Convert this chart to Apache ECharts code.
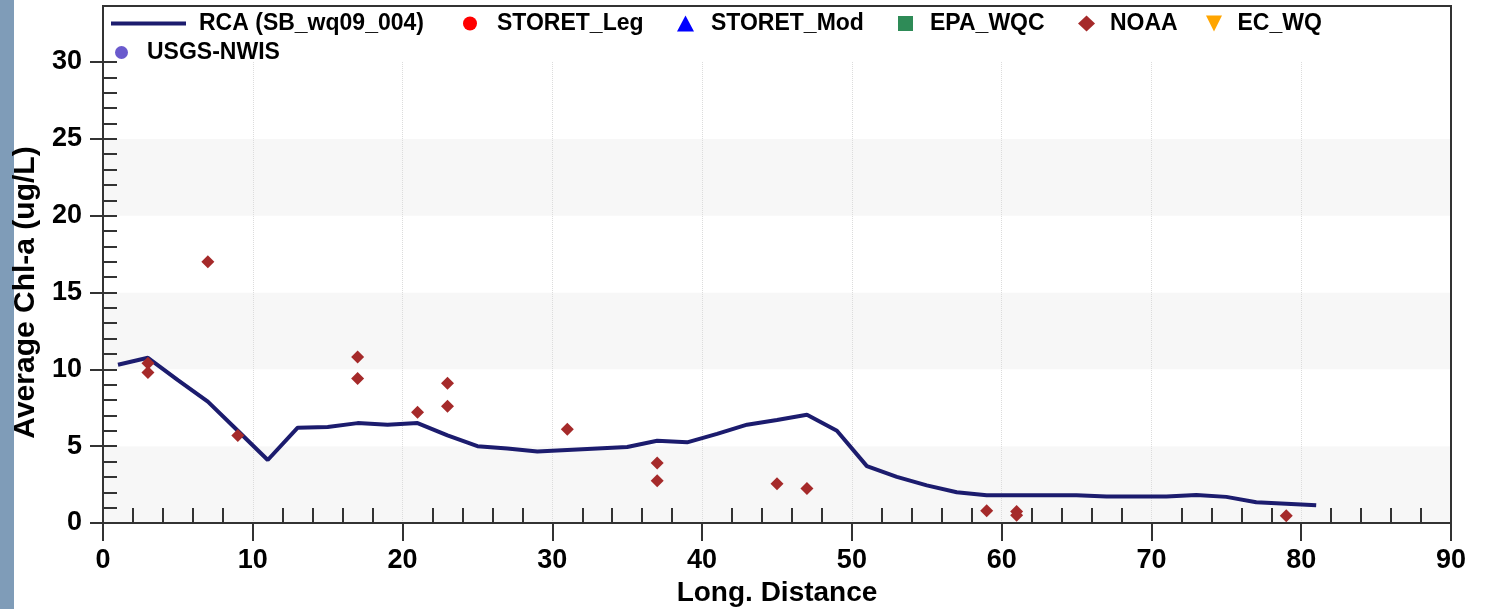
<!DOCTYPE html>
<html>
<head>
<meta charset="utf-8">
<title>Average Chl-a vs Long. Distance</title>
<script src="https://cdn.jsdelivr.net/npm/echarts@6/dist/echarts.min.js"></script>
<style>
  html, body { margin: 0; padding: 0; background: #fff; }
  #chart { width: 1485px; height: 609px; }
</style>
</head>
<body>
<div id="chart"></div>
<script>
// ===== Data =====
const rcaDist = [1, 3, 5, 7, 9, 11, 13, 15, 17, 19, 21, 23, 25, 27, 29, 31, 33, 35, 37, 39,
                 41, 43, 45, 47, 49, 51, 53, 55, 57, 59, 61, 63, 65, 67, 69, 71, 73, 75, 77, 79, 81];
const rcaChl  = [10.3, 10.75, 9.3, 7.9, 6.0, 4.1, 6.2, 6.25, 6.5, 6.4, 6.5, 5.7, 5.0, 4.85, 4.65, 4.75, 4.85, 4.95, 5.35, 5.25,
                 5.8, 6.4, 6.7, 7.05, 6.0, 3.7, 3.0, 2.45, 2.0, 1.8, 1.8, 1.8, 1.8, 1.72, 1.72, 1.72, 1.82, 1.7, 1.35, 1.25, 1.15];

const noaaDist = [3, 3, 7, 9, 17, 17, 21, 23, 23, 31, 37, 37, 45, 47, 59, 61, 61, 79];
const noaaChl  = [10.4, 9.8, 17.0, 5.7, 10.8, 9.4, 7.2, 9.1, 7.6, 6.1, 3.9, 2.75, 2.55, 2.25, 0.8, 0.75, 0.5, 0.47];

const legendNames = ['RCA (SB_wq09_004)', 'STORET_Leg', 'STORET_Mod', 'EPA_WQC', 'NOAA', 'EC_WQ', 'USGS-NWIS'];
const xTitle = 'Long. Distance';
const yTitle = 'Average Chl-a (ug/L)';

// ===== Styles =====
const FONT = 'Liberation Sans, Arial, sans-serif';
const AXIS = '#333';
const lineColor = '#1c1c6e';

// one legend per entry so each icon sits where the original has it
const legendLayout = [
  { icon: 'rect',     color: lineColor, left: 111,  top: 12, w: 75, h: 4,  pad: 8 },
  { icon: 'circle',   color: '#ff0000', left: 463,  top: 12, w: 14, h: 14, pad: 15 },
  { icon: 'triangle', color: '#0000ff', left: 677,  top: 12, w: 17, h: 16, pad: 12 },
  { icon: 'rect',     color: '#2e8b57', left: 898,  top: 12, w: 15, h: 15, pad: 12 },
  { icon: 'diamond',  color: '#a52a2a', left: 1078, top: 12, w: 17, h: 16, pad: 10 },
  { icon: 'path://M0,0 L10,0 L5,10 Z', color: '#ffa500', left: 1206, top: 12, w: 17, h: 16, pad: 10 },
  { icon: 'circle',   color: '#6a5acd', left: 115,  top: 41, w: 13, h: 13, pad: 14 }
];

const legends = legendNames.map((name, i) => {
  const l = legendLayout[i];
  return {
    left: l.left, top: l.top, padding: 0,
    itemWidth: l.w, itemHeight: l.h,
    selectedMode: false,
    textStyle: { fontFamily: FONT, fontSize: 23, fontWeight: 'bold', color: '#000', padding: [0, 0, 0, l.pad] },
    data: [{ name, icon: l.icon, itemStyle: { color: l.color, opacity: 1 } }]
  };
});

const chart = echarts.init(document.getElementById('chart'), null, { renderer: 'canvas' });

const option = {
  animation: false,
  backgroundColor: '#fff',
  grid: { left: 103, right: 34, top: 62, bottom: 86, containLabel: false, outerBoundsMode: 'none' },
  legend: legends,
  graphic: [
    { type: 'rect', left: 0, top: 0, shape: { width: 14, height: 609 }, style: { fill: '#7f9cb8' } },
    { type: 'rect', shape: { x: 103, y: 6, width: 1348, height: 517 },
      style: { fill: 'none', stroke: AXIS, lineWidth: 2 }, z: 10 }
  ],
  xAxis: [
    {
      type: 'value', min: 0, max: 90, interval: 10,
      name: xTitle, nameLocation: 'middle', nameGap: 51,
      nameTextStyle: { fontFamily: FONT, fontSize: 28, fontWeight: 'bold', color: '#000' },
      axisLine: { show: true, onZero: false, lineStyle: { color: AXIS, width: 2 } },
      axisTick: { show: true, inside: false, length: 18, lineStyle: { color: AXIS, width: 2 } },
      axisLabel: { fontFamily: FONT, fontSize: 27, fontWeight: 'bold', color: '#000', margin: 24 },
      splitLine: { show: true, lineStyle: { color: '#dcdcdc', type: 'dotted', width: 1 } }
    },
    {
      // inside minor ticks every 2 units
      type: 'value', min: 0, max: 90, interval: 10, position: 'bottom',
      axisLine: { show: false },
      axisTick: { show: false, inside: true },
      minorTick: { show: true, splitNumber: 5, length: 15, lineStyle: { color: AXIS, width: 2 } },
      axisLabel: { show: false },
      splitLine: { show: false }
    }
  ],
  yAxis: [
    {
      type: 'value', min: 0, max: 30, interval: 5,
      name: yTitle, nameLocation: 'middle', nameGap: 55,
      nameTextStyle: { fontFamily: FONT, fontSize: 30, fontWeight: 'bold', color: '#000' },
      axisLine: { show: true, onZero: false, lineStyle: { color: AXIS, width: 2 } },
      axisTick: { show: true, inside: false, length: 13, lineStyle: { color: AXIS, width: 2 } },
      axisLabel: { fontFamily: FONT, fontSize: 27, fontWeight: 'bold', color: '#000', margin: 21 },
      splitLine: { show: false },
      splitArea: { show: true, areaStyle: { color: ['#f7f7f7', '#ffffff'] } }
    },
    {
      // inside ticks every unit
      type: 'value', min: 0, max: 30, interval: 5, position: 'left',
      axisLine: { show: false },
      axisTick: { show: true, inside: true, length: 14, lineStyle: { color: AXIS, width: 2 } },
      minorTick: { show: true, splitNumber: 5, length: 14, lineStyle: { color: AXIS, width: 2 } },
      axisLabel: { show: false },
      splitLine: { show: false }
    }
  ],
  series: [
    {
      name: legendNames[0], type: 'line', xAxisIndex: 0, yAxisIndex: 0,
      data: rcaDist.map((d, i) => [d, rcaChl[i]]),
      symbol: 'none', lineStyle: { color: lineColor, width: 4 }, itemStyle: { color: lineColor }, z: 3
    },
    { name: legendNames[1], type: 'scatter', data: [], symbol: 'circle', itemStyle: { color: '#ff0000', opacity: 1 } },
    { name: legendNames[2], type: 'scatter', data: [], symbol: 'triangle', itemStyle: { color: '#0000ff', opacity: 1 } },
    { name: legendNames[3], type: 'scatter', data: [], symbol: 'rect', itemStyle: { color: '#2e8b57', opacity: 1 } },
    {
      name: legendNames[4], type: 'scatter', xAxisIndex: 0, yAxisIndex: 0,
      data: noaaDist.map((d, i) => [d, noaaChl[i]]),
      symbol: 'diamond', symbolSize: 13, itemStyle: { color: '#a52a2a', opacity: 1 }, z: 4
    },
    { name: legendNames[5], type: 'scatter', data: [], symbol: 'path://M0,0 L10,0 L5,10 Z', itemStyle: { color: '#ffa500', opacity: 1 } },
    { name: legendNames[6], type: 'scatter', data: [], symbol: 'circle', itemStyle: { color: '#6a5acd', opacity: 1 } }
  ]
};

chart.setOption(option);
</script>
</body>
</html>
